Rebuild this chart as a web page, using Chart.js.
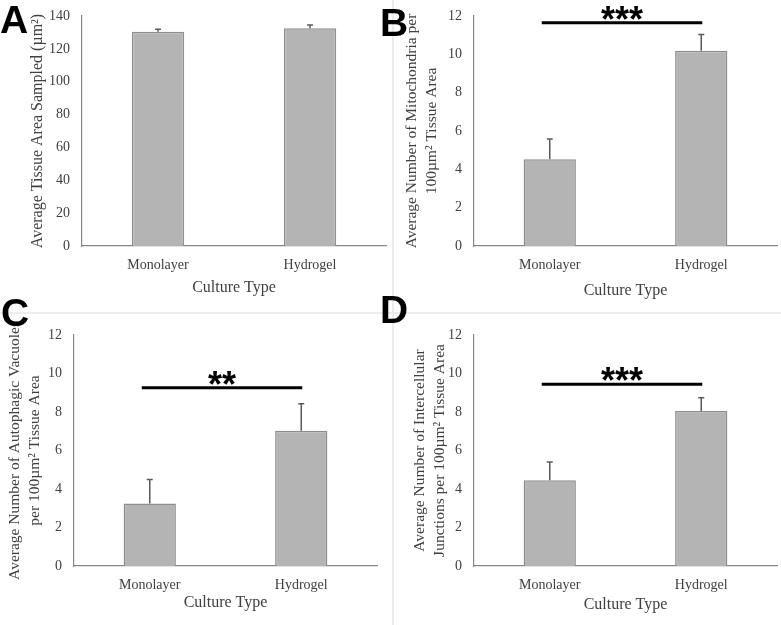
<!DOCTYPE html>
<html lang="en">
<head>
    <meta charset="UTF-8">
    <title>Culture Type comparison</title>
    <script src="https://cdn.jsdelivr.net/npm/chart.js"></script>
    <style>
        body {
            margin: 0;
            background: #fff;
        }
        #wrap {
            position: relative;
            width: 781px;
            height: 625px;
            overflow: hidden;
        }
        .panel {
            position: absolute;
        }
        .letter {
            position: absolute;
            font-family: "Liberation Sans", Arial, sans-serif;
            font-weight: bold;
            font-size: 39px;
            line-height: 39px;
            color: #000;
        }
        .vline {
            position: absolute;
            left: 392px;
            top: 0;
            width: 2px;
            height: 625px;
            background: #ececec;
        }
        .hline {
            position: absolute;
            left: 0;
            top: 312px;
            width: 781px;
            height: 2px;
            background: #ececec;
        }
    </style>
</head>
<body>
<div id="wrap">
    <div class="vline"></div>
    <div class="hline"></div>
    <canvas class="panel" id="chartA" width="390" height="310" style="left:0;top:0"></canvas>
    <canvas class="panel" id="chartB" width="391" height="310" style="left:390px;top:0"></canvas>
    <canvas class="panel" id="chartC" width="390" height="315" style="left:0;top:310px"></canvas>
    <canvas class="panel" id="chartD" width="391" height="315" style="left:390px;top:310px"></canvas>
    <div class="letter" style="left:0;top:0">A</div>
    <div class="letter" style="left:380px;top:3px">B</div>
    <div class="letter" style="left:1px;top:293px">C</div>
    <div class="letter" style="left:380px;top:290px">D</div>
</div>

<script>
    // data
    const categories = ["Monolayer", "Hydrogel"];

    const areaMeans = [130.4, 132.5];
    const areaErr = [1.5, 2.0];

    const mitoMeans = [4.52, 10.19];
    const mitoErr = [1.06, 0.85];
    const mitoSig = 11.65;

    const vacuoleMeans = [3.25, 7.02];
    const vacuoleErr = [1.25, 1.41];
    const vacuoleSig = 9.26;

    const junctionMeans = [4.46, 8.05];
    const junctionErr = [0.94, 0.69];
    const junctionSig = 9.44;

    const areaTicks = { max: 140, step: 20 };
    const countTicks = { max: 12, step: 2 };

    const textColor = "#404040";
    const axisColor = "#888888";
    const serif = "'Liberation Serif', 'Times New Roman', serif";

    // error bars (upper only) + significance bracket with stars
    const annotPlugin = {
        id: "annot",
        afterDatasetsDraw(chart, args, opts) {
            const ctx = chart.ctx;
            const xs = chart.scales.x;
            const ys = chart.scales.y;
            const means = chart.data.datasets[0].data;
            ctx.save();
            ctx.strokeStyle = "#595959";
            ctx.lineWidth = 1.5;
            means.forEach((m, i) => {
                const px = xs.getPixelForValue(i);
                const y0 = ys.getPixelForValue(m);
                const y1 = ys.getPixelForValue(m + opts.err[i]);
                ctx.beginPath();
                ctx.moveTo(px, y0);
                ctx.lineTo(px, y1);
                ctx.moveTo(px - 3, y1);
                ctx.lineTo(px + 3, y1);
                ctx.stroke();
            });
            if (opts.sig != null) {
                const sy = ys.getPixelForValue(opts.sig);
                const xa = xs.getPixelForValue(0) - 8;
                const xb = xs.getPixelForValue(1) + 1;
                ctx.strokeStyle = "#000";
                ctx.lineWidth = 3;
                ctx.beginPath();
                ctx.moveTo(xa, sy);
                ctx.lineTo(xb, sy);
                ctx.stroke();
                ctx.fillStyle = "#000";
                ctx.font = "bold 36px 'Liberation Sans', Arial, sans-serif";
                ctx.textAlign = "center";
                ctx.textBaseline = "alphabetic";
                ctx.fillText(opts.stars, (xa + xb) / 2, sy + 9);
            }
            ctx.restore();
        }
    };

    function makeChart(id, means, err, ticks, yTitle, lay) {
        const multi = Array.isArray(yTitle);
        return new Chart(document.getElementById(id), {
            type: "bar",
            data: {
                labels: categories,
                datasets: [{
                    data: means,
                    backgroundColor: "#b4b4b4",
                    borderColor: "#8e8e8e",
                    borderWidth: 1.5,
                    borderSkipped: "bottom",
                    barPercentage: 0.345,
                    categoryPercentage: 1
                }]
            },
            options: {
                responsive: false,
                animation: false,
                layout: {
                    padding: { left: 0, top: lay.top, right: lay.right, bottom: 0 }
                },
                plugins: {
                    legend: { display: false },
                    tooltip: { enabled: false },
                    annot: { err: err, sig: lay.sig, stars: lay.stars }
                },
                scales: {
                    x: {
                        grid: { display: false, drawTicks: false },
                        border: { display: true, color: axisColor, width: 1.2 },
                        ticks: {
                            color: textColor,
                            padding: 11,
                            font: { family: serif, size: 14 }
                        },
                        title: {
                            display: true,
                            text: "Culture Type",
                            color: textColor,
                            font: { family: serif, size: 16, lineHeight: 1.2 },
                            padding: { top: 0, bottom: lay.xTitlePad }
                        },
                        afterFit: s => { s.height = lay.xh; }
                    },
                    y: {
                        min: 0,
                        max: ticks.max,
                        // tick length stands in for label padding so it does not push the plot top down
                        grid: { display: false, drawTicks: true, tickLength: 12, tickColor: "rgba(0,0,0,0)" },
                        border: { display: true, color: axisColor, width: 1.2 },
                        ticks: {
                            stepSize: ticks.step,
                            color: textColor,
                            padding: 0,
                            font: { family: serif, size: 14 }
                        },
                        title: {
                            display: true,
                            text: yTitle,
                            color: textColor,
                            font: { family: serif, size: multi ? 15.5 : 16, lineHeight: multi ? 1.3 : 1.2 },
                            padding: { top: lay.yTitlePad, bottom: 0 }
                        },
                        afterFit: s => { s.width = lay.yw; }
                    }
                }
            },
            plugins: [annotPlugin]
        });
    }

    makeChart("chartA", areaMeans, areaErr, areaTicks,
        "Average Tissue Area Sampled (µm²)",
        { top: 16, right: 4, yw: 82, xh: 64, xTitlePad: 13, yTitlePad: 28, sig: null, stars: "" });

    makeChart("chartB", mitoMeans, mitoErr, countTicks,
        ["Average Number of Mitochondria per", "100µm² Tissue Area"],
        { top: 16, right: 4, yw: 84, xh: 64, xTitlePad: 10, yTitlePad: 12, sig: mitoSig, stars: "***" });

    makeChart("chartC", vacuoleMeans, vacuoleErr, countTicks,
        ["Average Number of Autophagic Vacuoles", "per 100µm² Tissue Area"],
        { top: 25, right: 13, yw: 74, xh: 59, xTitlePad: 13, yTitlePad: 5, sig: vacuoleSig, stars: "**" });

    makeChart("chartD", junctionMeans, junctionErr, countTicks,
        ["Average Number of Intercellular", "Junctions per 100µm² Tissue Area"],
        { top: 25, right: 4, yw: 84, xh: 59, xTitlePad: 11, yTitlePad: 20, sig: junctionSig, stars: "***" });
</script>
</body>
</html>
